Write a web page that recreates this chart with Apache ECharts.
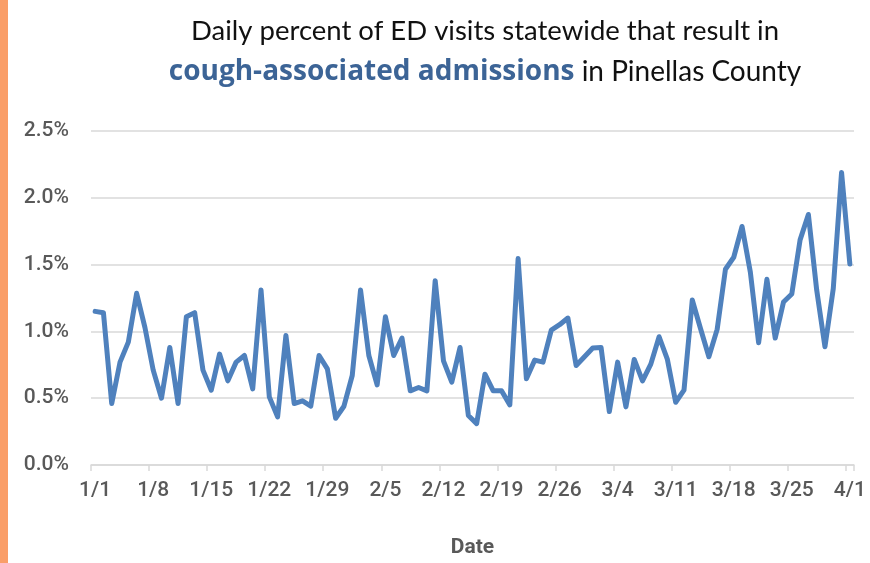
<!DOCTYPE html>
<html>
<head>
<meta charset="utf-8">
<script src="https://cdn.jsdelivr.net/npm/echarts@6/dist/echarts.min.js"></script>
<style>
html,body{margin:0;padding:0;background:#fff;overflow:hidden;}
#c{width:870px;height:563px;}
</style>
</head>
<body>
<div id="c"></div>
<script>
// Month lengths (2024, leap year) used to build the daily date categories 1/1 .. 4/1
const monthLengths = [31, 29, 31, 1];
const categories = [];
monthLengths.forEach((n, m) => { for (let d = 1; d <= n; d++) categories.push((m + 1) + '/' + d); });

// Daily percent of ED visits (in %)
const values = [
  1.15, 1.14, 0.46, 0.77, 0.92, 1.285, 1.03, 0.71, 0.50, 0.88,
  0.46, 1.11, 1.14, 0.71, 0.56, 0.83, 0.63, 0.77, 0.82, 0.57,
  1.31, 0.51, 0.36, 0.97, 0.46, 0.48, 0.44, 0.82, 0.72, 0.35,
  0.44, 0.67, 1.31, 0.82, 0.60, 1.11, 0.82, 0.95, 0.555, 0.58,
  0.555, 1.38, 0.78, 0.62, 0.88, 0.37, 0.31, 0.68, 0.555, 0.555,
  0.45, 1.545, 0.645, 0.785, 0.77, 1.01, 1.05, 1.10, 0.745, 0.81,
  0.875, 0.88, 0.40, 0.77, 0.435, 0.79, 0.63, 0.755, 0.96, 0.79,
  0.47, 0.56, 1.235, 1.02, 0.81, 1.015, 1.465, 1.555, 1.785, 1.445,
  0.915, 1.39, 0.95, 1.22, 1.28, 1.685, 1.875, 1.31, 0.885, 1.32,
  2.19, 1.505
];

const yTicks = [0.0, 0.5, 1.0, 1.5, 2.0, 2.5];

const titleLine1 = 'Daily percent of ED visits statewide that result in';
const titleBold = 'cough-associated admissions';
const titleRest = ' in Pinellas County';
const xAxisName = 'Date';

const chart = echarts.init(document.getElementById('c'), null, {renderer: 'canvas', width: 870, height: 563});
const labelFont = 'Roboto';
chart.setOption({
  backgroundColor: '#ffffff',
  animation: false,
  graphic: [{
    type: 'rect', left: 0, top: 0,
    shape: {width: 8, height: 563},
    style: {fill: '#FA9E68'}
  }],
  title: [{
    text: titleLine1,
    left: 480, top: 12, textAlign: 'center',
    textStyle: {fontFamily: 'Lato', fontWeight: 'normal', fontSize: 27.5, color: '#111111'}
  }, {
    text: '{b|' + titleBold + '}{n|' + titleRest + '}',
    left: 480, top: 53, textAlign: 'center',
    textStyle: {
      rich: {
        b: {fontFamily: 'Open Sans', fontWeight: 'bold', fontSize: 28, color: '#3C6496'},
        n: {fontFamily: 'Lato', fontWeight: 'normal', fontSize: 28, color: '#111111'}
      }
    }
  }],
  grid: {left: 91, right: 16, top: 131, height: 340.5, containLabel: false},
  xAxis: {
    type: 'category',
    data: categories,
    boundaryGap: true,
    name: xAxisName,
    nameLocation: 'middle',
    nameGap: 72,
    nameTextStyle: {fontFamily: labelFont, fontWeight: 'bold', fontSize: 21, color: '#595959'},
    axisLine: {lineStyle: {color: '#D9D9D9', width: 1.5}},
    axisTick: {show: true, interval: 6, length: 6, lineStyle: {color: '#D9D9D9', width: 1.5}},
    axisLabel: {interval: 6, margin: 15, fontFamily: labelFont, fontWeight: 500, fontSize: 21, color: '#595959'},
    splitLine: {show: false}
  },
  yAxis: {
    type: 'value',
    min: yTicks[0], max: yTicks[yTicks.length - 1], interval: 0.5,
    axisLine: {show: false},
    axisTick: {show: false},
    axisLabel: {margin: 22, fontFamily: labelFont, fontWeight: 500, fontSize: 21, color: '#595959',
      formatter: v => v.toFixed(1) + '%'},
    splitLine: {lineStyle: {color: '#D9D9D9', width: 1.5}}
  },
  series: [{
    type: 'line',
    data: values,
    showSymbol: false,
    symbol: 'none',
    smooth: false,
    lineStyle: {color: '#4F81BD', width: 5, cap: 'round', join: 'round'},
    z: 3
  }]
});
</script>
</body>
</html>
